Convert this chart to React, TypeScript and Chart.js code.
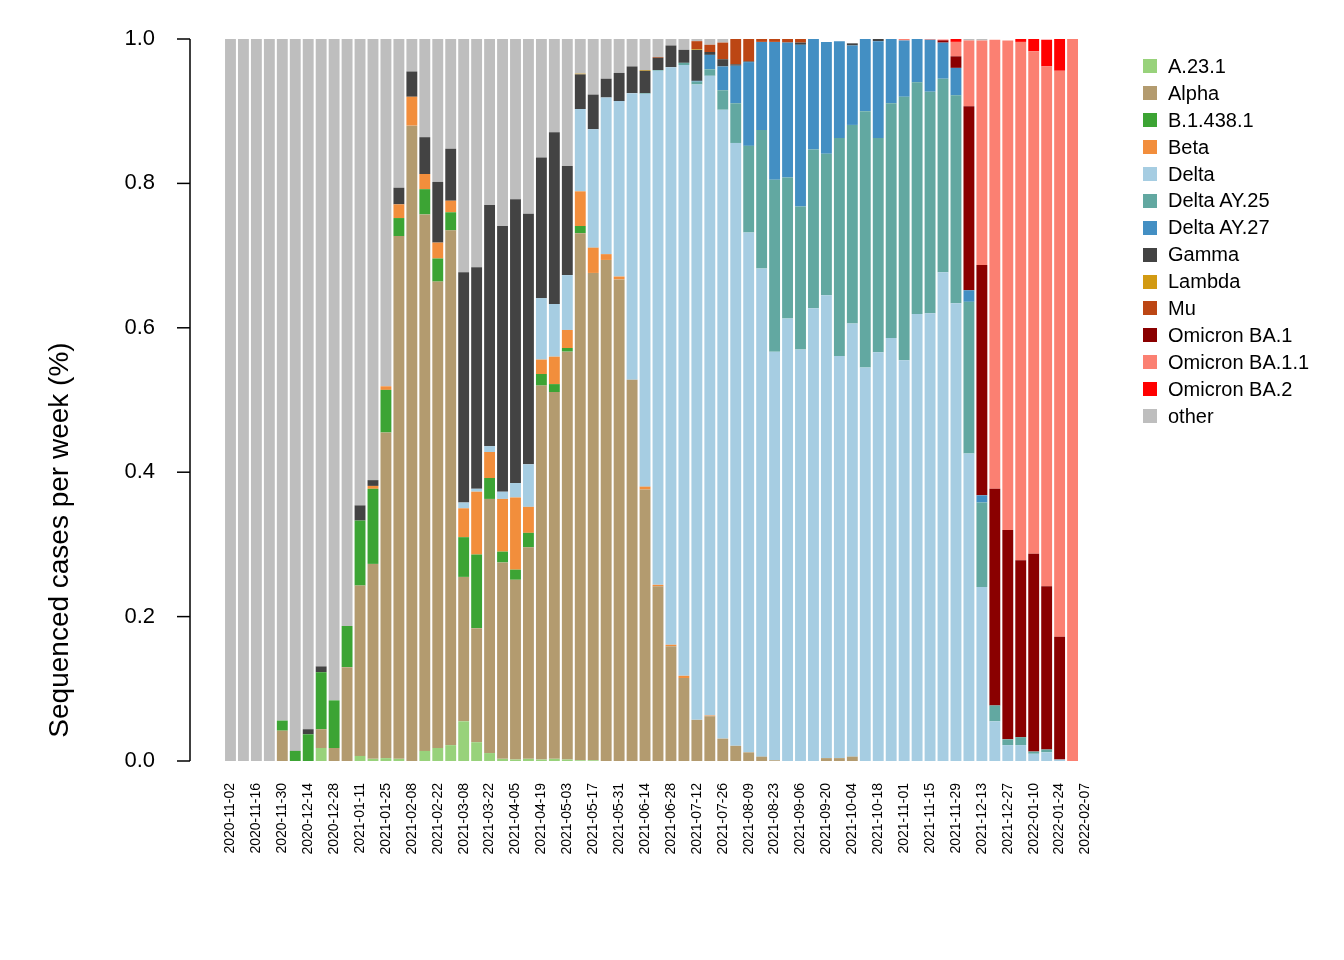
import React, { useRef, useEffect } from 'react';
import Chart from 'chart.js/auto';

// weekly categories, 2020-11-02 .. 2022-02-07
const weeks: string[] = [];
for (let i = 0; i < 67; i++) {
    const d = new Date(Date.UTC(2020, 10, 2 + 7 * i));
    weeks.push(d.toISOString().slice(0, 10));
}

const a231 = [0,0,0,0,0,0,0,0.018,0,0,0.007,0.003,0.004,0.003,0,0.014,0.018,0.022,0.055,0.026,0.011,0.003,0.002,0.003,0.002,0.003,0.002,0.001,0.001];
const alpha = [0,0,0,0,0.042,0,0,0.026,0.018,0.13,0.236,0.27,0.451,0.724,0.88,0.743,0.646,0.713,0.2,0.158,0.352,0.272,0.249,0.293,0.518,0.508,0.565,0.73,0.675,0.694,0.667,0.528,0.376,0.242,0.159,0.115,0.057,0.062,0.031,0.021,0.012,0.006,0.001,0,0,0,0.004,0.004,0.006];
const b1438 = [0,0,0,0,0.014,0.014,0.037,0.079,0.066,0.057,0.09,0.104,0.059,0.025,0,0.035,0.032,0.025,0.055,0.102,0.029,0.015,0.014,0.02,0.016,0.011,0.005,0.01];
const beta = [0,0,0,0,0,0,0,0,0,0,0,0.004,0.005,0.019,0.04,0.021,0.022,0.016,0.04,0.087,0.036,0.073,0.1,0.036,0.02,0.038,0.025,0.048,0.035,0.008,0.004,0,0.004,0.002,0.002,0.003,0,0.001];
const delta = [0,0,0,0,0,0,0,0,0,0,0,0,0,0,0,0,0,0,0.008,0.004,0.008,0.01,0.02,0.059,0.085,0.073,0.076,0.114,0.164,0.217,0.243,0.397,0.544,0.712,0.8,0.846,0.88,0.886,0.871,0.835,0.72,0.676,0.566,0.613,0.57,0.627,0.641,0.557,0.6,0.545,0.566,0.586,0.555,0.619,0.62,0.677,0.634,0.426,0.241,0.055,0.022,0.022,0.01,0.012,0.002,0];
const ay25 = [0,0,0,0,0,0,0,0,0,0,0,0,0,0,0,0,0,0,0,0,0,0,0,0,0,0,0,0,0,0,0,0,0.001,0.001,0,0.003,0.004,0.009,0.027,0.055,0.12,0.192,0.238,0.195,0.198,0.22,0.196,0.302,0.275,0.355,0.297,0.325,0.365,0.321,0.307,0.268,0.288,0.21,0.117,0.022,0.008,0.011,0.003,0.004,0,0];
const ay27 = [0,0,0,0,0,0,0,0,0,0,0,0,0,0,0,0,0,0,0,0,0,0,0,0,0,0,0,0,0,0,0,0,0,0,0,0,0.001,0.02,0.033,0.052,0.116,0.122,0.191,0.187,0.224,0.153,0.155,0.134,0.11,0.1,0.134,0.089,0.078,0.06,0.072,0.05,0.038,0.016,0.01];
const gamma = [0,0,0,0,0,0,0.007,0.008,0,0,0.021,0.008,0,0.023,0.035,0.051,0.084,0.072,0.319,0.307,0.334,0.368,0.393,0.347,0.195,0.238,0.151,0.048,0.048,0.026,0.039,0.037,0.031,0.017,0.03,0.018,0.043,0.004,0.01,0.002,0.001,0,0,0,0.003,0,0,0,0.003,0,0.003];
const lambda = [0,0,0,0,0,0,0,0,0,0,0,0,0,0,0,0,0,0,0,0,0,0,0,0,0,0,0,0.001,0,0,0,0,0.001,0,0,0,0.001];
const mu = [0,0,0,0,0,0,0,0,0,0,0,0,0,0,0,0,0,0,0,0,0,0,0,0,0,0,0,0,0,0,0,0,0,0.001,0,0,0.011,0.01,0.023,0.035,0.031,0.004,0.005,0.005,0.005];
const ba1 = [0,0,0,0,0,0,0,0,0,0,0,0,0,0,0,0,0,0,0,0,0,0,0,0,0,0,0,0,0,0,0,0,0,0,0,0,0,0,0,0,0,0,0,0,0,0,0,0,0,0,0,0,0,0,0,0.003,0.016,0.255,0.319,0.3,0.29,0.245,0.274,0.226,0.17,0];
const ba11 = [0,0,0,0,0,0,0,0,0,0,0,0,0,0,0,0,0,0,0,0,0,0,0,0,0,0,0,0,0,0,0,0,0,0,0,0,0,0,0,0,0,0,0,0,0,0,0,0,0,0,0,0,0.002,0,0.001,0,0.02,0.091,0.311,0.622,0.678,0.718,0.696,0.72,0.784,1];
const ba2 = [0,0,0,0,0,0,0,0,0,0,0,0,0,0,0,0,0,0,0,0,0,0,0,0,0,0,0,0,0,0,0,0,0,0,0,0,0,0,0,0,0,0,0,0,0,0,0,0,0,0,0,0,0,0,0,0.001,0.004,0,0,0,0,0.004,0.018,0.037,0.044,0];
const other = [1,1,1,1,0.944,0.986,0.956,0.869,0.916,0.813,0.646,0.611,0.481,0.206,0.045,0.136,0.198,0.152,0.323,0.316,0.23,0.259,0.224,0.242,0.166,0.129,0.178,0.049,0.078,0.055,0.047,0.038,0.043,0.025,0.009,0.015,0.003,0.008,0.005,0,0,0,0,0,0,0,0,0,0,0,0,0,0,0,0,0,0,0.002,0.002];

const series = [
    { label: 'A.23.1', data: a231, color: '#98d27b' },
    { label: 'Alpha', data: alpha, color: '#b39b6f' },
    { label: 'B.1.438.1', data: b1438, color: '#3ca434' },
    { label: 'Beta', data: beta, color: '#f28e3c' },
    { label: 'Delta', data: delta, color: '#a6cde2' },
    { label: 'Delta AY.25', data: ay25, color: '#62a8a1' },
    { label: 'Delta AY.27', data: ay27, color: '#438fc3' },
    { label: 'Gamma', data: gamma, color: '#434343' },
    { label: 'Lambda', data: lambda, color: '#d29a12' },
    { label: 'Mu', data: mu, color: '#bc4614' },
    { label: 'Omicron BA.1', data: ba1, color: '#8a0000' },
    { label: 'Omicron BA.1.1', data: ba11, color: '#fb8072' },
    { label: 'Omicron BA.2', data: ba2, color: '#ff0000' },
    { label: 'other', data: other, color: '#bebebe' },
];

const yTicks = [0, 0.2, 0.4, 0.6, 0.8, 1.0];
const FONT = '"Liberation Sans", Arial, sans-serif';

const App: React.FC = () => {
    const canvasRef = useRef<HTMLCanvasElement | null>(null);
    const chartRef = useRef<Chart | null>(null);

    useEffect(() => {
        document.body.style.margin = '0';
        if (!canvasRef.current) return;
        const ctx = canvasRef.current.getContext('2d');
        if (!ctx) return;
        if (chartRef.current) chartRef.current.destroy();

        const yAxisPlugin = {
            id: 'rAxis',
            afterDraw: (chart: Chart) => {
                const { ctx, scales: { y } } = chart;
                const x0 = 190;
                ctx.save();
                ctx.strokeStyle = '#000';
                ctx.lineWidth = 1.5;
                ctx.beginPath();
                ctx.moveTo(x0, y.getPixelForValue(0));
                ctx.lineTo(x0, y.getPixelForValue(1));
                ctx.stroke();
                ctx.fillStyle = '#000';
                ctx.font = `22px ${FONT}`;
                ctx.textAlign = 'right';
                ctx.textBaseline = 'middle';
                yTicks.forEach(t => {
                    const py = y.getPixelForValue(t);
                    ctx.beginPath();
                    ctx.moveTo(x0, py);
                    ctx.lineTo(x0 - 13, py);
                    ctx.stroke();
                    ctx.fillText(t.toFixed(1), 155, py);
                });
                ctx.translate(60, 540);
                ctx.rotate(-Math.PI / 2);
                ctx.textAlign = 'center';
                ctx.font = `28px ${FONT}`;
                ctx.fillText('Sequenced cases per week (%)', 0, 0);
                ctx.restore();
            }
        };

        chartRef.current = new Chart(ctx, {
            type: 'bar',
            data: {
                labels: weeks,
                datasets: series.map(s => ({
                    label: s.label,
                    data: s.data,
                    backgroundColor: s.color,
                    borderWidth: 0,
                    barPercentage: 0.84,
                    categoryPercentage: 1,
                })),
            },
            plugins: [yAxisPlugin],
            options: {
                responsive: false,
                animation: false,
                layout: { padding: { top: 39, right: 252, left: 0, bottom: 0 } },
                scales: {
                    x: {
                        stacked: true,
                        offset: true,
                        grid: { display: false },
                        border: { display: false },
                        afterFit: (scale: any) => { scale.height = 199; },
                        ticks: {
                            autoSkip: false,
                            maxRotation: 90,
                            minRotation: 90,
                            padding: 14,
                            color: '#000',
                            font: { family: FONT, size: 14 },
                            callback: (_v: any, i: number) => (i % 2 === 0 ? weeks[i] : ''),
                        },
                    },
                    y: {
                        stacked: true,
                        min: 0,
                        max: 1,
                        grid: { display: false },
                        border: { display: false },
                        ticks: { display: false },
                        afterFit: (scale: any) => { scale.width = 224; },
                    },
                },
                plugins: {
                    legend: { display: false },
                    tooltip: { enabled: false },
                },
            },
        });

        return () => {
            if (chartRef.current) chartRef.current.destroy();
        };
    }, []);

    return (
        <div style={{ position: 'relative', width: 1344, height: 960, background: '#fff' }}>
            <canvas ref={canvasRef} width={1344} height={960} style={{ position: 'absolute', left: 0, top: 0 }}></canvas>
            <div style={{ position: 'absolute', left: 1143, top: 53, fontFamily: FONT, fontSize: 20 }}>
                {series.map(s => (
                    <div key={s.label} style={{ display: 'flex', alignItems: 'center', height: 26.9 }}>
                        <span style={{ width: 14, height: 14, background: s.color, display: 'inline-block', marginRight: 11 }}></span>
                        <span>{s.label}</span>
                    </div>
                ))}
            </div>
        </div>
    );
};

export default App;
